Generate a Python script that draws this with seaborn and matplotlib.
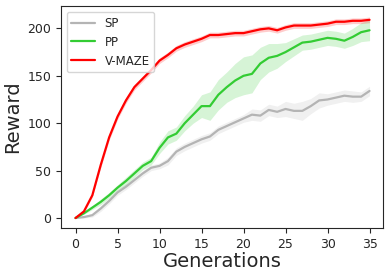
import pandas as pd
import seaborn as sns
import matplotlib
matplotlib.use('Agg')
import matplotlib.pyplot as plt
import numpy as np

# Generations 0..35
generations = list(range(36))

# Mean reward per method
sp_mean = [0, 1, 3, 10, 18, 27, 33, 40, 47, 53, 55, 60, 70, 75, 79, 83, 86, 93, 97, 101,
           105, 109, 108, 114, 112, 115, 113, 113, 118, 124, 125, 127, 129, 128, 128, 134]
pp_mean = [0, 5, 11, 17, 24, 32, 39, 47, 55, 60, 74, 85, 89, 100, 109, 118, 118, 130, 138, 145,
           150, 152, 163, 169, 171, 175, 180, 185, 186, 188, 190, 189, 187, 191, 196, 198]
vmaze_mean = [0, 7, 24, 56, 85, 107, 124, 138, 147, 156, 166, 172, 179, 183, 186, 189, 193, 193, 194, 195,
              195, 197, 199, 200, 198, 201, 203, 203, 203, 204, 205, 207, 207, 208, 208, 209]

# Half-width of the shaded band
sp_err = [0, 1, 2, 3, 3, 3, 3, 3, 3, 3, 3, 4, 4, 4, 4, 4, 4, 4, 4, 4,
          4, 6, 6, 6, 6, 8, 8, 10, 8, 8, 6, 6, 6, 6, 5, 5]
pp_err = [0, 1, 2, 3, 3, 3, 4, 4, 4, 4, 6, 7, 7, 8, 9, 12, 15, 16, 16, 18,
          20, 20, 17, 15, 13, 10, 9, 8, 8, 8, 8, 8, 8, 9, 10, 11]
vmaze_err = [0, 1, 2, 3, 3, 3, 3, 3, 3, 3, 3, 3, 3, 3, 3, 3, 3, 3, 3, 3,
             3, 3, 3, 3, 3, 3, 3, 3, 3, 3, 3, 3, 3, 3, 3, 3]

methods = ['SP', 'PP', 'V-MAZE']
colors = ['#b4b4b4', '#33cc33', '#ff0000']

sns.set_style('ticks')

means = {'SP': sp_mean, 'PP': pp_mean, 'V-MAZE': vmaze_mean}
errs = {'SP': sp_err, 'PP': pp_err, 'V-MAZE': vmaze_err}

df = pd.concat([pd.DataFrame({'Generations': generations, 'Reward': means[m], 'Method': m})
                for m in methods], ignore_index=True)

fig = plt.figure(figsize=(3.9, 2.77), dpi=100)
ax = fig.add_axes([0.156, 0.177, 0.826, 0.801])

sns.lineplot(data=df, x='Generations', y='Reward', hue='Method', palette=colors,
             hue_order=methods, linewidth=1.6, ax=ax)

# shaded bands
for m, c in zip(methods, colors):
    mu = np.array(means[m])
    e = np.array(errs[m])
    ax.fill_between(generations, mu - e, mu + e, color=c, alpha=0.2, linewidth=0)

ax.set_xlim(-1.75, 36.6)
ax.set_ylim(-10.5, 223.5)
ax.set_xticks([0, 5, 10, 15, 20, 25, 30, 35])
ax.set_yticks([0, 50, 100, 150, 200])
ax.tick_params(labelsize=9)
ax.set_xlabel('Generations', fontsize=14, labelpad=1)
ax.set_ylabel('Reward', fontsize=14)

ax.legend(loc='upper left', fontsize=8.5, title=None)

plt.savefig('out.png', dpi=100)
